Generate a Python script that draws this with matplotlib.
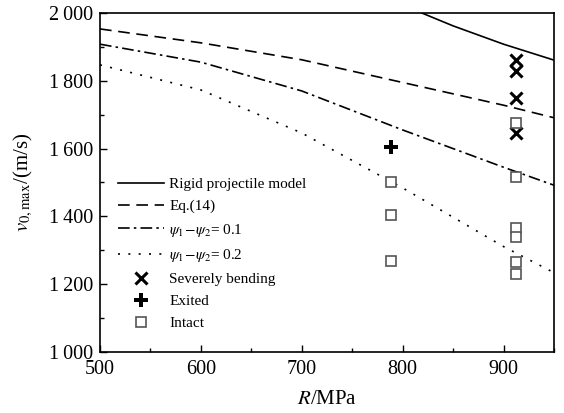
import numpy as np
import matplotlib
matplotlib.use("Agg")
import matplotlib.pyplot as plt
from matplotlib.ticker import MultipleLocator, FuncFormatter

plt.rcParams['font.family'] = ['Liberation Serif', 'DejaVu Serif']
plt.rcParams['mathtext.fontset'] = 'stix'

# model curves (R in MPa, v in m/s)
r_rigid = [819, 850, 900, 950]
v_rigid = [2000, 1962, 1908, 1861]
r_curve = [500, 600, 700, 800, 900, 950]
v_eq14 = [1953, 1912, 1862, 1795, 1728, 1691]
v_psi01 = [1908, 1855, 1770, 1655, 1545, 1492]
v_psi02 = [1847, 1773, 1646, 1484, 1311, 1234]

# experiments
r_bend = [912, 912, 912, 912]
v_bend = [1861, 1829, 1748, 1647]
r_exit = [788]
v_exit = [1606]
r_intact = [788, 788, 788, 912, 912, 912, 912, 912, 912]
v_intact = [1501, 1404, 1268, 1675, 1517, 1365, 1338, 1265, 1229]

fig = plt.figure(figsize=(5.64, 4.13), dpi=100)
ax = fig.add_axes([100/564, 61/413, 454/564, 339/413])

ax.plot(r_rigid, v_rigid, color='black', lw=1.2, label='Rigid projectile model')
ax.plot(r_curve, v_eq14, color='black', lw=1.2, ls=(0, (7, 4)), label='Eq.(14)')
ax.plot(r_curve, v_psi01, color='black', lw=1.2, ls=(0, (7, 2.5, 1.5, 2.5)),
        label=r'$\psi_1\!-\!\psi_2$= 0.1')
ax.plot(r_curve, v_psi02, color='black', lw=1.2, ls=(0, (1.2, 5)),
        label=r'$\psi_1\!-\!\psi_2$= 0.2')
ax.plot(r_bend, v_bend, 'x', color='black', ms=9, mew=2.2, ls='none',
        label='Severely bending')
ax.plot(r_exit, v_exit, 'P', color='black', ms=10, mew=0, ls='none', label='Exited')
ax.plot(r_intact, v_intact, 's', mfc='white', mec='#555555', ms=7.5, mew=1.2,
        ls='none', label='Intact')

ax.set_xlim(500, 950)
ax.set_ylim(1000, 2000)
ax.xaxis.set_major_locator(MultipleLocator(100))
ax.xaxis.set_minor_locator(MultipleLocator(50))
ax.yaxis.set_major_locator(MultipleLocator(200))
ax.yaxis.set_minor_locator(MultipleLocator(100))
ax.yaxis.set_major_formatter(FuncFormatter(
    lambda v, p: f'{int(v):,}'.replace(',', '\u2009')))
ax.tick_params(which='both', direction='in', top=False, right=False, labelsize=14.5)
ax.tick_params(axis='x', which='major', pad=6)
ax.tick_params(axis='y', which='major', pad=5)
ax.tick_params(which='major', length=5, width=1)
ax.tick_params(which='minor', length=3, width=1)
for s in ax.spines.values():
    s.set_linewidth(1.2)

ax.set_xlabel(r'$R$/MPa', fontsize=15, labelpad=8)
ax.set_ylabel(r'$v_{0,\mathrm{max}}$/(m/s)', fontsize=15, labelpad=10)

ax.legend(loc='upper left', bbox_to_anchor=(0.04, 0.515), frameon=False,
          fontsize=11, handlelength=3.0, handletextpad=0.35, labelspacing=0.55,
          borderaxespad=0, borderpad=0)

fig.savefig('out.png', dpi=100)
